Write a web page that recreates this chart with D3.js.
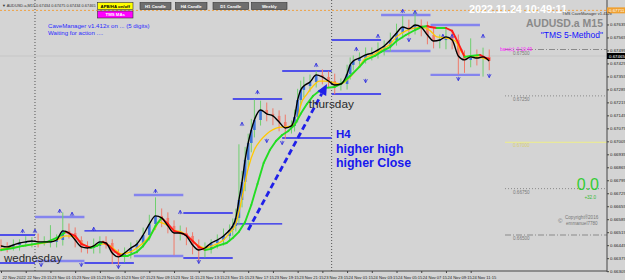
<!DOCTYPE html>
<html>
<head>
<meta charset="utf-8">
<script src="https://cdn.jsdelivr.net/npm/d3@7"></script>
<style>
  body { margin: 0; background: #d4d4d4; }
  svg { display: block; font-family: "Liberation Sans", Arial, sans-serif; }
</style>
</head>
<body>
<div id="chart"></div>
<script>
// M15 bars counted from 22 Nov 21:15 (bar 0)
var closeBars = [0,2,4,6,8,10,12,14,16,18,20,22,24,26,28,30,32,34,36,38,40,42,44,46,48,50,52,54,56,58,60,62,64,66,68,70,72,74,
  75,76,77,78,79,80,81,82,84,86,88,90,92,94,95,96,97,98,100,102,104,106,108,110,112,113,
  114,116,118,120,122,124,126,128,130,132,134,136,138,140,142,144,146,148,150,152,154,156,158];
var closes = [0.66441,0.66436,0.66446,0.66457,0.66463,0.66468,0.66463,0.66463,0.66463,0.66473,0.66522,0.66511,0.66473,0.66436,0.66430,0.66441,0.66463,0.66457,0.66403,0.66382,
  0.66403,0.66430,0.66452,0.66500,0.66559,0.66603,0.66592,0.66549,0.66511,0.66511,0.66495,0.66446,0.66419,0.66430,0.66457,0.66473,0.66495,0.66527,
  0.66549,0.66592,0.66689,0.66786,0.66905,0.66996,0.67066,0.67120,0.67174,0.67153,0.67142,0.67109,0.67077,0.67088,0.67136,0.67228,0.67282,0.67303,
  0.67325,0.67363,0.67352,0.67330,0.67309,0.67314,0.67368,0.67417,
  0.67438,0.67454,0.67471,0.67481,0.67498,0.67519,0.67551,0.67589,0.67621,0.67611,0.67632,0.67621,0.67578,0.67546,0.67551,0.67568,0.67551,0.67465,0.67444,0.67460,0.67454,0.67460,0.67438];
var firstOpen = 0.66446;
// wick lengths beyond the body, in pips
var hiPips = [3,2,3,2,3,2,4,3,9,3,10,4,3,2,3,4,3,3,2,2,3,3,2,4,5,10,4,3,3,4,3,2,3,3,2,3,4,3,
  4,5,30,6,7,5,6,11,5,4,3,3,4,3,4,6,5,5,4,2,3,3,4,3,5,4,
  3,3,4,3,4,3,4,5,6,4,7,3,3,4,3,5,4,3,3,10,4,5,4];
var loPips = [3,3,2,3,2,3,3,2,3,3,3,3,4,3,3,3,4,3,6,5,3,3,3,2,3,3,5,4,12,4,5,5,6,4,3,3,3,3,
  3,3,4,4,5,4,5,4,3,4,5,5,6,3,3,3,3,4,3,3,4,4,5,3,3,3,
  3,3,3,3,3,3,3,3,3,4,3,5,5,4,4,5,5,10,7,4,4,10,5];

// medium moving average (yellow)
var midBars = [0,5,9,14,18,21,24,26,29,31,34,37,39,42,44,47,50,51,53,56,59,61,64,66,69,72,74,76,78,80,82,84,86,88,90,92,94,96,97,99,101,103,105,108,110,113,116,118,121,123,126,128,131,134,136,139,141,144,147,149,151,154,156,158];
var midVals = [0.66425,0.66436,0.66446,0.66457,0.66473,0.66495,0.66490,0.66457,0.66436,0.66446,0.66452,0.66419,0.66398,0.66409,0.66430,0.66473,0.66538,0.66570,0.66560,0.66527,
  0.66511,0.66484,0.66441,0.66430,0.66446,0.66473,0.66511,0.66560,0.66700,0.66860,0.66960,0.67010,0.67045,0.67068,0.67080,0.67082,0.67088,0.67126,0.67201,0.67260,
  0.67303,0.67330,0.67330,0.67320,0.67314,0.67352,0.67411,0.67454,0.67476,0.67498,0.67530,0.67568,0.67600,0.67616,0.67621,0.67600,0.67568,0.67562,0.67546,0.67487,
  0.67460,0.67460,0.67454,0.67444];

// slow moving average (green rising / red falling)
var slowBars = [0,4,7,11,15,18,21,24,26,29,31,33,35,37,39,41,44,46,48,50,52,54,56,58,60,62,64,66,68,70,73,75,77,79,81,83,85,87,89,91,93,95,97,99,101,103,105,108,110,113,116,118,121,123,126,128,131,134,136,138,139,141,144,146,147,149,150,152,155,157,158];
var slowVals = [0.66419,0.66430,0.66441,0.66452,0.66463,0.66484,0.66517,0.66495,0.66452,0.66430,0.66441,0.66463,0.66441,0.66409,0.66387,0.66387,0.66409,0.66441,0.66484,0.66549,
  0.66592,0.66560,0.66522,0.66511,0.66500,0.66468,0.66436,0.66419,0.66425,0.66441,0.66457,0.66484,0.66517,0.66570,0.66662,0.66775,0.66888,0.66958,0.67007,0.67039,
  0.67061,0.67093,0.67153,0.67206,0.67250,0.67276,0.67293,0.67298,0.67314,0.67357,0.67406,0.67444,0.67465,0.67487,0.67514,0.67546,0.67578,0.67605,0.67621,0.67627,
  0.67621,0.67616,0.67616,0.67600,0.67568,0.67498,0.67460,0.67465,0.67471,0.67454,0.67449];

// H4 candle high / low lines, one per 16 bars
var h4Start = [-5,11,27,43,59,75,91,107,123,139];
var h4High = [0.66500,0.66597,0.66522,0.66716,0.66619,0.67233,0.67384,0.67551,0.67686,0.67632];
var h4Low = [0.66349,0.66360,0.66349,0.66387,0.66376,0.66560,0.67023,0.67260,0.67492,0.67363];
var h4Bear = [false,true,false,true,false,false,false,false,true,true];

// fractal marks
var upFracBars = [7,11,19,23,30,50,58,78,83,102,115,122,130,134,143,146,156];
var upFracVals = [0.66522,0.66522,0.66630,0.66614,0.66533,0.66738,0.66624,0.67099,0.67271,0.67417,0.67503,0.67573,0.67708,0.67702,0.67573,0.67573,0.67573];
var dnFracBars = [13,26,38,64,86,91,118,132,148,158];
var dnFracVals = [0.66339,0.66339,0.66328,0.66355,0.67007,0.66996,0.67330,0.67551,0.67341,0.67357];

// day separators
var daySepBars = [11,107];
var dayNames = ["wednesday","thursday"];

// axes
var priceTicks = [0.66305,0.66375,0.66445,0.66515,0.66585,0.66655,0.66725,0.66795,0.66865,0.66935,
  0.67005,0.67075,0.67145,0.67215,0.67285,0.67355,0.67425,0.67495,0.67565,0.67635];
var timeTickBars = [0,8,16,24,32,40,48,56,64,72,80,88,96,104,112,120,128,136,144,152];
var timeLabels = ["22 Nov 2022","22 Nov 23:15","23 Nov 01:15","23 Nov 03:15","23 Nov 05:15","23 Nov 07:15","23 Nov 09:15",
  "23 Nov 11:15","23 Nov 13:15","23 Nov 15:15","23 Nov 17:15","23 Nov 19:15","23 Nov 21:15","23 Nov 23:15",
  "24 Nov 01:15","24 Nov 03:15","24 Nov 05:15","24 Nov 07:15","24 Nov 09:15","24 Nov 11:15"];

// round levels, bid and pivot
var levelPrices = [0.6750,0.6725,0.6700,0.6675,0.6650];
var bidPrice = 0.67465;
var pivotPrice = 0.67711;

// arrow annotation: from bar/price to bar/price
var arrowFrom = [80, 0.66527];
var arrowTo = [105.5, 0.67314];

var W = 625, H = 280;
var plotRight = 607, plotBottom = 271;

var x = d3.scaleLinear().domain([0, 160]).range([1, 495.4]);
var y = d3.scaleLinear().domain([0.665, 0.675]).range([235, 49.5]);

var svg = d3.select("#chart").append("svg")
    .attr("width", W).attr("height", H);

svg.append("rect").attr("width", W).attr("height", H).attr("fill", "#d4d4d4");

// pivot line (orange dashed)
svg.append("line")
    .attr("x1", 0).attr("x2", plotRight)
    .attr("y1", y(pivotPrice)).attr("y2", y(pivotPrice))
    .attr("stroke", "#f0a040").attr("stroke-width", 1).attr("stroke-dasharray", "2,2");

// bid line
svg.append("line")
    .attr("x1", 0).attr("x2", plotRight)
    .attr("y1", y(bidPrice)).attr("y2", y(bidPrice))
    .attr("stroke", "#c6c6c6").attr("stroke-width", 1);

// day separators
svg.selectAll(".daysep").data(daySepBars).enter().append("line")
    .attr("x1", d => x(d)).attr("x2", d => x(d))
    .attr("y1", 0).attr("y2", plotBottom)
    .attr("stroke", "#555").attr("stroke-width", 1).attr("stroke-dasharray", "1,2");

// round levels on the right
var levelStyle = [
  { dash: "6,2,1,2", color: "#8a8a8a" },
  { dash: "1,2", color: "#8a8a8a" },
  { dash: null, color: "#eeee88" },
  { dash: "1,2", color: "#8a8a8a" },
  { dash: "6,2,1,2", color: "#8a8a8a" }
];
levelPrices.forEach(function(p, i) {
  svg.append("line")
      .attr("x1", 505).attr("x2", plotRight)
      .attr("y1", y(p)).attr("y2", y(p))
      .attr("stroke", levelStyle[i].color).attr("stroke-width", 1)
      .attr("stroke-dasharray", levelStyle[i].dash);
  svg.append("text")
      .attr("x", 513).attr("y", y(p) + 5)
      .attr("font-size", 4.6)
      .attr("fill", i === 2 ? "#d8d070" : "#7a7a7a")
      .text(d3.format(".5f")(p));
});

// H4 high / low lines
h4Start.forEach(function(s, i) {
  var x1 = Math.max(0, x(s)), x2 = x(s + 16);
  [h4High[i], h4Low[i]].forEach(function(p) {
    svg.append("line")
        .attr("x1", x1).attr("x2", x2)
        .attr("y1", y(p)).attr("y2", y(p))
        .attr("stroke", h4Bear[i] ? "#8484ee" : "#2424f0")
        .attr("stroke-width", h4Bear[i] ? 2.4 : 1.4);
  });
});

// candles
var candles = closeBars.map(function(b, i) {
  var o = i === 0 ? firstOpen : closes[i - 1];
  var c = closes[i];
  return { bar: b, o: o, c: c,
           h: Math.max(o, c) + hiPips[i] * 0.0001,
           l: Math.min(o, c) - loPips[i] * 0.0001 };
});

var cg = svg.append("g");
cg.selectAll(".wick").data(candles).enter().append("line")
    .attr("x1", d => x(d.bar)).attr("x2", d => x(d.bar))
    .attr("y1", d => y(d.h)).attr("y2", d => y(d.l))
    .attr("stroke", d => d.c >= d.o ? "#6fcf6f" : "#f07a6a")
    .attr("stroke-width", 1);
cg.selectAll(".body").data(candles).enter().append("rect")
    .attr("x", d => x(d.bar) - 1.3)
    .attr("width", 2.6)
    .attr("y", d => y(Math.max(d.o, d.c)))
    .attr("height", d => Math.max(1, Math.abs(y(d.o) - y(d.c))))
    .attr("fill", d => d.c >= d.o ? "#3f74d8" : "#f27b6e");

// fractals
svg.selectAll(".fu").data(upFracBars).enter().append("path")
    .attr("transform", (d, i) => "translate(" + x(d) + "," + y(upFracVals[i]) + ")")
    .attr("d", "M-1.8,1.8L0,-1.6L1.8,1.8M0,-1.6L0,2.2")
    .attr("fill", "none").attr("stroke", "#2a2ae0").attr("stroke-width", 0.8);
svg.selectAll(".fd").data(dnFracBars).enter().append("path")
    .attr("transform", (d, i) => "translate(" + x(d) + "," + y(dnFracVals[i]) + ")")
    .attr("d", "M-1.8,-1.8L0,1.6L1.8,-1.8M0,1.6L0,-2.2")
    .attr("fill", "none").attr("stroke", "#2a2ae0").attr("stroke-width", 0.8);

// medium MA (yellow)
var midLine = d3.line().x(d => x(d[0])).y(d => y(d[1])).curve(d3.curveMonotoneX);
svg.append("path")
    .datum(midBars.map((b, i) => [b, midVals[i]]))
    .attr("d", midLine)
    .attr("fill", "none").attr("stroke", "#ffc800").attr("stroke-width", 1.3);

// slow MA coloured by direction
var slowPts = slowBars.map((b, i) => [b, slowVals[i]]);
for (var i = 1; i < slowPts.length; i++) {
  var rising = slowPts[i][1] >= slowPts[i - 1][1];
  svg.append("line")
      .attr("x1", x(slowPts[i - 1][0])).attr("y1", y(slowPts[i - 1][1]))
      .attr("x2", x(slowPts[i][0])).attr("y2", y(slowPts[i][1]))
      .attr("stroke", rising ? "#22dd22" : "#ff1a1a")
      .attr("stroke-width", 1.9).attr("stroke-linecap", "round");
}

// fast MA (black)
var fastLine = d3.line().x(d => x(d[0])).y(d => y(d[1])).curve(d3.curveMonotoneX);
svg.append("path")
    .datum(closeBars.map((b, i) => [b, closes[i]]))
    .attr("d", fastLine)
    .attr("fill", "none").attr("stroke", "#000").attr("stroke-width", 1.4);

// dashed arrow
var ax1 = x(arrowFrom[0]), ay1 = y(arrowFrom[1]);
var ax2 = x(arrowTo[0]), ay2 = y(arrowTo[1]);
var ang = Math.atan2(ay2 - ay1, ax2 - ax1);
var headLen = 11, headW = 5;
var bx = ax2 - headLen * Math.cos(ang), by = ay2 - headLen * Math.sin(ang);
svg.append("line")
    .attr("x1", ax1).attr("y1", ay1).attr("x2", bx).attr("y2", by)
    .attr("stroke", "#2020e8").attr("stroke-width", 2.8).attr("stroke-dasharray", "6,3.5");
svg.append("path")
    .attr("d", "M" + ax2 + "," + ay2 +
      "L" + (bx + headW * Math.sin(ang)) + "," + (by - headW * Math.cos(ang)) +
      "L" + (bx - headW * Math.sin(ang)) + "," + (by + headW * Math.cos(ang)) + "Z")
    .attr("fill", "#2020e8");

// day names
svg.append("text").attr("x", x(daySepBars[0]) - 31).attr("y", 262)
    .attr("font-size", 11.5).attr("fill", "#2a2a2a").text(dayNames[0]);
svg.append("text").attr("x", x(daySepBars[1]) - 23).attr("y", 108)
    .attr("font-size", 11.8).attr("fill", "#2a2a2a").text(dayNames[1]);

// H4 note
var note = svg.append("g").attr("font-weight", "bold").attr("fill", "#1818ee");
note.append("text").attr("x", 336).attr("y", 138).attr("font-size", 11.5).text("H4");
note.append("text").attr("x", 336).attr("y", 153).attr("font-size", 12.4).text("higher high");
note.append("text").attr("x", 336).attr("y", 167).attr("font-size", 12.4).text("higher Close");

// right axis
svg.append("line").attr("x1", plotRight).attr("x2", plotRight).attr("y1", 0).attr("y2", plotBottom + 1)
    .attr("stroke", "#444").attr("stroke-width", 1);
var yAxis = svg.append("g").attr("transform", "translate(" + plotRight + ",0)")
    .call(d3.axisRight(y).tickValues(priceTicks).tickSize(2).tickPadding(1).tickFormat(d3.format(".5f")));
yAxis.select(".domain").remove();
yAxis.selectAll("text").attr("font-size", 4.4).attr("fill", "#222")
    .attr("font-family", "Liberation Sans, Arial, sans-serif");
yAxis.selectAll(".tick line").attr("stroke", "#444");

// price tags on the axis
[[pivotPrice, "#f0a030", "#fff"], [bidPrice, "#000", "#fff"]].forEach(function(t) {
  svg.append("rect").attr("x", plotRight).attr("y", y(t[0]) - 3).attr("width", 18).attr("height", 6)
      .attr("fill", t[1]);
  svg.append("text").attr("x", plotRight + 2).attr("y", y(t[0]) + 1.6)
      .attr("font-size", 4.4).attr("fill", t[2]).text(d3.format(".5f")(t[0]));
});

// bottom axis
svg.append("line").attr("x1", 0).attr("x2", plotRight).attr("y1", plotBottom).attr("y2", plotBottom)
    .attr("stroke", "#444").attr("stroke-width", 1);
var xAxis = svg.append("g").attr("transform", "translate(0," + plotBottom + ")")
    .call(d3.axisBottom(x).tickValues(timeTickBars).tickSize(2).tickFormat((d, i) => timeLabels[i]));
xAxis.select(".domain").remove();
xAxis.selectAll("text").attr("font-size", 4.1).attr("fill", "#222")
    .attr("text-anchor", "start").attr("dx", 1).attr("dy", 2.5)
    .attr("font-family", "Liberation Sans, Arial, sans-serif");
xAxis.selectAll(".tick line").attr("stroke", "#444");

// header texts
svg.append("text").attr("x", 2).attr("y", 7).attr("font-size", 3.9).attr("fill", "#333")
    .text("\u25BC AUDUSD.a,M15 0.67434 0.67475 0.67434 0.67465");

function button(x0, y0, w, label, fill, color) {
  svg.append("rect").attr("x", x0).attr("y", y0).attr("width", w).attr("height", 7)
      .attr("fill", fill).attr("stroke", "#333").attr("stroke-width", 0.6);
  svg.append("text").attr("x", x0 + w / 2).attr("y", y0 + 5).attr("text-anchor", "middle")
      .attr("font-size", 4.3).attr("font-weight", "bold").attr("fill", color).text(label);
}
button(97.5, 2.5, 35.5, "APB/HA on/off", "#ffff00", "#000");
button(97.5, 11, 35.5, "TMS MAs", "#ff00ff", "#fff");
button(140, 2.5, 31, "H1 Candle", "#6e6e6e", "#fff");
button(175.5, 2.5, 31.5, "H4 Candle", "#6e6e6e", "#fff");
button(213, 2.5, 35.5, "D1 Candle", "#6e6e6e", "#fff");
button(251.5, 2.5, 35.5, "Weekly", "#6e6e6e", "#fff");

svg.append("text").attr("x", 48).attr("y", 27.5).attr("font-size", 6.1).attr("fill", "#2b2bff")
    .text("CaveManager v1.412x on ... (5 digits)");
svg.append("text").attr("x", 48).attr("y", 35).attr("font-size", 6.1).attr("fill", "#2b2bff")
    .text("Waiting for action ....");

svg.append("text").attr("x", 518).attr("y", 12.5).attr("text-anchor", "middle")
    .attr("font-size", 11).attr("font-weight", "bold").attr("fill", "#fff")
    .attr("textLength", 98).text("2022.11.24 10:49:11");
svg.append("text").attr("x", 562).attr("y", 15).attr("font-size", 4).attr("fill", "#333")
    .text("TMS CaveManager v1.412x");
svg.append("text").attr("x", 603).attr("y", 26.5).attr("text-anchor", "end")
    .attr("font-size", 10.5).attr("font-weight", "bold").attr("fill", "#8a8a8a").text("AUDUSD.a M15");
svg.append("text").attr("x", 603).attr("y", 38).attr("text-anchor", "end")
    .attr("font-size", 8.5).attr("fill", "#1212ff").text("\"TMS 5-Method\"");
svg.append("text").attr("x", 500).attr("y", 51).attr("font-size", 4.6).attr("fill", "#ff22ff")
    .text("bars(c): 0:10:49");

svg.append("text").attr("x", 599).attr("y", 190).attr("text-anchor", "end")
    .attr("font-size", 16).attr("fill", "#33cc33").text("0.0");
svg.append("text").attr("x", 596).attr("y", 198.5).attr("text-anchor", "end")
    .attr("font-size", 4.6).attr("fill", "#33bb33").text("+32.0");

svg.append("text").attr("x", 558).attr("y", 223).attr("font-size", 6).attr("fill", "#777").text("\u00A9");
svg.append("text").attr("x", 565).attr("y", 219).attr("font-size", 4.6).attr("fill", "#777").text("Copyright\u00AE2016");
svg.append("text").attr("x", 566).attr("y", 224.5).attr("font-size", 4.6).attr("fill", "#777").text("emmanuel7780");
</script>
</body>
</html>
